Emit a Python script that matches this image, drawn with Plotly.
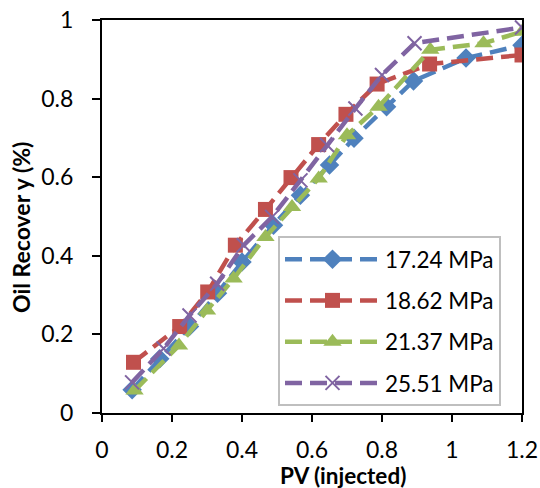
import plotly.graph_objects as go

names = ["17.24 MPa", "18.62 MPa", "21.37 MPa", "25.51 MPa"]

x_1724 = [0.086, 0.165, 0.25, 0.33, 0.40, 0.49, 0.567, 0.65, 0.72, 0.813, 0.89, 1.04, 1.2]
y_1724 = [0.059, 0.138, 0.22, 0.305, 0.384, 0.478, 0.554, 0.631, 0.699, 0.779, 0.845, 0.903, 0.936]

x_1862 = [0.09, 0.222, 0.302, 0.381, 0.467, 0.54, 0.619, 0.697, 0.786, 0.936, 1.2]
y_1862 = [0.129, 0.220, 0.308, 0.427, 0.518, 0.599, 0.683, 0.760, 0.837, 0.888, 0.911]

x_2137 = [0.093, 0.22, 0.30, 0.376, 0.467, 0.543, 0.619, 0.70, 0.79, 0.938, 1.09, 1.2]
y_2137 = [0.057, 0.172, 0.261, 0.342, 0.448, 0.524, 0.597, 0.707, 0.779, 0.924, 0.941, 0.970]

x_2551 = [0.086, 0.176, 0.25, 0.329, 0.405, 0.486, 0.567, 0.643, 0.724, 0.80, 0.893, 1.2]
y_2551 = [0.078, 0.164, 0.248, 0.329, 0.427, 0.499, 0.592, 0.682, 0.775, 0.860, 0.941, 0.981]

x_ticks = [0, 0.2, 0.4, 0.6, 0.8, 1, 1.2]
x_ticktext = ["0", "0.2", "0.4", "0.6", "0.8", "1", "1.2"]
y_ticks = [0, 0.2, 0.4, 0.6, 0.8, 1]
y_ticktext = ["0", "0.2", "0.4", "0.6", "0.8", "1"]

colors = ["#4F81BD", "#C0504D", "#9BBB59", "#8064A2"]
symbols = ["diamond", "square", "triangle-up", "x-thin"]
sizes = [15, 15, 16, 14]
xs = [x_1724, x_1862, x_2137, x_2551]
ys = [y_1724, y_1862, y_2137, y_2551]

FONT = "Lato, 'Open Sans', sans-serif"

W, H = 540, 488
L, R, T, B = 102, 540 - 522, 20, 488 - 413
PW, PH = 420, 393

fig = go.Figure()
for i in range(4):
    marker = dict(symbol=symbols[i], size=sizes[i], color=colors[i])
    if symbols[i] == "x-thin":
        marker["line"] = dict(color=colors[i], width=2)
    fig.add_trace(go.Scatter(
        x=xs[i], y=ys[i], name=names[i], mode="lines+markers",
        line=dict(color=colors[i], width=4.5, dash="17px,8px"),
        marker=marker, legendgroup=names[i],
    ))

fig.update_layout(
    width=W, height=H,
    margin=dict(l=L, r=R, t=T, b=B),
    paper_bgcolor="white", plot_bgcolor="white",
    font=dict(family=FONT, size=23, color="black"),
    showlegend=True,
    legend=dict(
        x=(278 - 102) / PW, y=(413 - 236) / PH, xanchor="left", yanchor="top",
        bgcolor="white", bordercolor="#BFBFBF", borderwidth=2,
        font=dict(family=FONT, size=22.5, color="black"),
        tracegroupgap=9, itemwidth=95, traceorder="grouped",
    ),
    xaxis=dict(
        range=[0, 1.2], tickvals=x_ticks, ticktext=x_ticktext,
        ticks="outside", ticklen=7, tickwidth=2, tickcolor="black",
        showline=True, linewidth=2, linecolor="black", mirror=True,
        showgrid=False, zeroline=False, ticklabelstandoff=8, automargin=False,
    ),
    yaxis=dict(
        range=[0, 1], tickvals=y_ticks, ticktext=y_ticktext,
        ticks="outside", ticklen=8, tickwidth=2, tickcolor="black",
        showline=True, linewidth=2, linecolor="black", mirror=True,
        showgrid=False, zeroline=False, ticklabelstandoff=14, automargin=False,
    ),
    annotations=[
        dict(text="<b>PV (injected)</b>", xref="paper", yref="paper",
             x=(343 - 102) / PW, y=(413 - 475) / PH, xanchor="center", yanchor="middle",
             showarrow=False, font=dict(family=FONT, size=22.5, color="black")),
        dict(text="<b>Oil Recover y (%)</b>", xref="paper", yref="paper",
             x=(21 - 102) / PW, y=(413 - 228) / PH, xanchor="center", yanchor="middle",
             textangle=-90, showarrow=False, font=dict(family=FONT, size=23, color="black")),
    ],
)

# remove the browser's default 8px body margin so the figure fills the window
fig.write_html("out.html", config={"displayModeBar": False},
               post_script="document.body.style.margin='0';")
